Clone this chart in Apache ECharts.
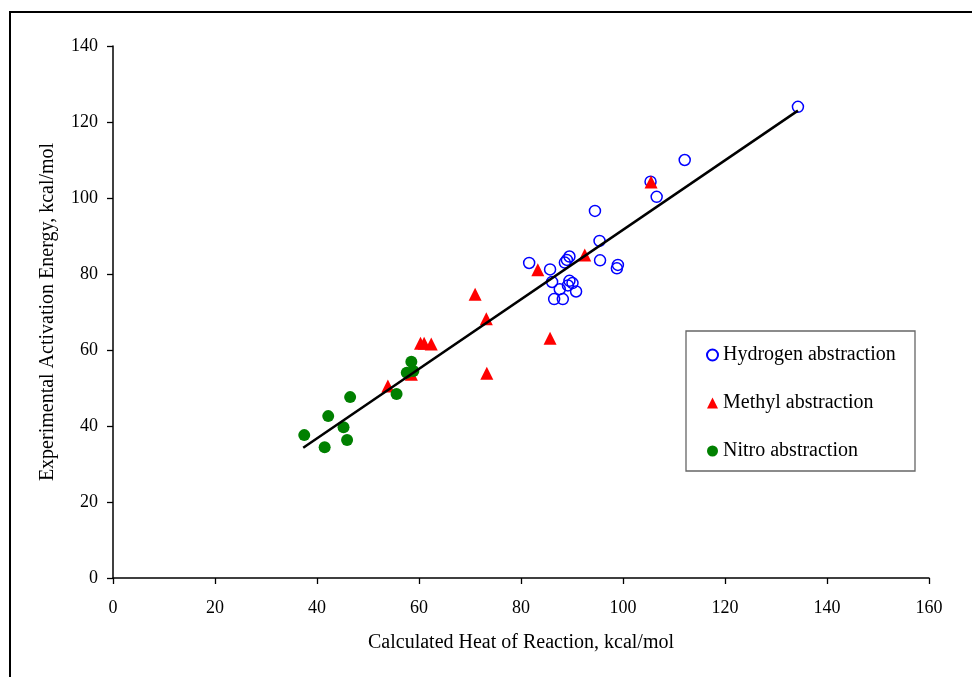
<!DOCTYPE html>
<html>
<head>
<meta charset="utf-8">
<script src="https://cdn.jsdelivr.net/npm/echarts@6/dist/echarts.min.js"></script>
<style>
html,body{margin:0;padding:0;background:#fff;}
#chart{width:972px;height:677px;}
</style>
</head>
<body>
<div id="chart"></div>
<script>
const seriesNames = ['Hydrogen abstraction', 'Methyl abstraction', 'Nitro abstraction'];
const hydrogenData = [[134.3,124.0],[112.1,110.0],[105.4,104.3],[106.6,100.3],[94.5,96.6],[95.4,88.7],[95.5,83.6],[81.6,82.9],[89.5,84.6],[89.0,83.7],[88.6,83.0],[85.7,81.2],[99.0,82.4],[98.8,81.5],[86.1,77.9],[89.5,78.2],[90.1,77.6],[89.2,77.0],[87.6,76.0],[90.8,75.4],[86.5,73.4],[88.2,73.4]];
const methylData = [[105.5,104.2],[92.5,85.0],[83.3,81.1],[71.0,74.7],[73.2,68.2],[85.7,63.1],[60.3,61.8],[61.0,61.8],[62.4,61.6],[73.3,53.9],[53.9,50.5],[58.5,53.6]];
const nitroData = [[37.5,37.6],[41.5,34.4],[42.2,42.6],[45.2,39.7],[45.9,36.3],[46.5,47.6],[55.6,48.4],[58.5,56.9],[57.6,54.0],[58.9,54.5]];
const trendData = [[37.3,34.3],[134.3,123.0]];
const xTicks = {min:0, max:160, interval:20};
const yTicks = {min:0, max:140, interval:20};
const xTitle = 'Calculated Heat of Reaction, kcal/mol';
const yTitle = 'Experimental Activation Energy, kcal/mol';

const font = 'Liberation Serif, Times New Roman, serif';
const chart = echarts.init(document.getElementById('chart'), null, {renderer:'canvas'});
chart.setOption({
  backgroundColor:'#ffffff',
  animation:false,
  graphic:[
    {type:'rect', shape:{x:10, y:12, width:1200, height:1200}, style:{fill:'none', stroke:'#000', lineWidth:2}, z:-1},
    {type:'rect', shape:{x:686, y:331, width:229, height:140}, style:{fill:'#fff', stroke:'#666', lineWidth:1.3}, z:5}
  ],
  grid:{left:113, right:43, top:46, bottom:99, containLabel:false},
  legend:{
    orient:'vertical', left:706, top:345, itemWidth:11, itemHeight:11, itemGap:28,
    padding:0, z:10,
    textStyle:{fontFamily:font, fontSize:20, color:'#000', padding:[0,0,0,0]},
    data:seriesNames
  },
  xAxis:{
    type:'value', min:xTicks.min, max:xTicks.max, interval:xTicks.interval,
    name:xTitle, nameLocation:'middle', nameGap:55,
    nameTextStyle:{fontFamily:font, fontSize:20, color:'#000'},
    axisLine:{show:true, onZero:false, lineStyle:{color:'#000', width:1.5}},
    axisTick:{show:true, inside:false, length:6, lineStyle:{color:'#000', width:1.3}},
    axisLabel:{fontFamily:font, fontSize:18, color:'#000', margin:21},
    splitLine:{show:false}
  },
  yAxis:{
    type:'value', min:yTicks.min, max:yTicks.max, interval:yTicks.interval,
    name:yTitle, nameLocation:'middle', nameGap:55, nameRotate:90,
    nameTextStyle:{fontFamily:font, fontSize:20, color:'#000'},
    axisLine:{show:true, onZero:false, lineStyle:{color:'#000', width:1.5}},
    axisTick:{show:true, inside:false, length:6, lineStyle:{color:'#000', width:1.3}},
    axisLabel:{fontFamily:font, fontSize:18, color:'#000', margin:15},
    splitLine:{show:false}
  },
  series:[
    {name:seriesNames[0], type:'scatter', data:hydrogenData, symbol:'circle', symbolSize:11,
     itemStyle:{color:'rgba(255,255,255,0)', borderColor:'#0000ff', borderWidth:1.5, opacity:1}, z:2},
    {name:seriesNames[1], type:'scatter', data:methylData, symbol:'triangle', symbolSize:13,
     itemStyle:{color:'#ff0000', opacity:1}, z:3},
    {name:seriesNames[2], type:'scatter', data:nitroData, symbol:'circle', symbolSize:12,
     itemStyle:{color:'#008000', opacity:1}, z:4},
    {name:'trend', type:'line', data:trendData, symbol:'none', showSymbol:false,
     lineStyle:{color:'#000', width:2.5}, z:6, silent:true}
  ]
});
</script>
</body>
</html>
